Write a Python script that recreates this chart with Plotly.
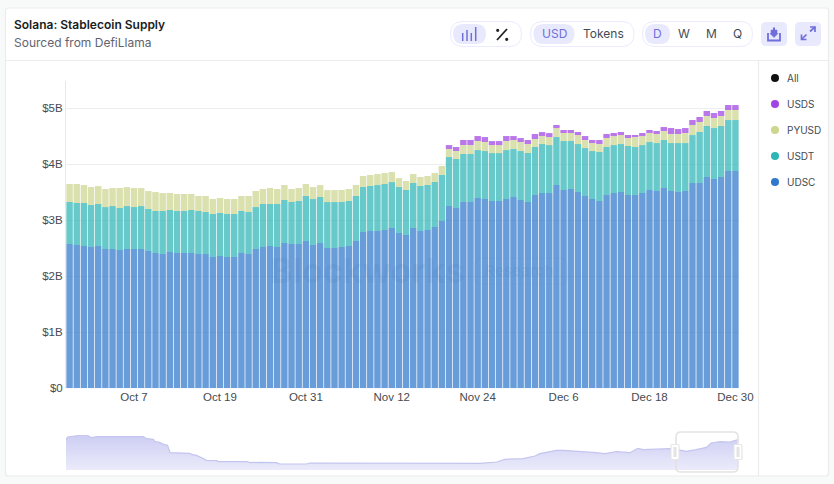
import pandas as pd
import plotly.graph_objects as go

W, H = 834, 484
START_DATE = "2024-09-28"
TICK_DATES = ["2024-10-07", "2024-10-19", "2024-10-31", "2024-11-12", "2024-11-24", "2024-12-06", "2024-12-18", "2024-12-30"]
TICK_LABELS = ["Oct 7", "Oct 19", "Oct 31", "Nov 12", "Nov 24", "Dec 6", "Dec 18", "Dec 30"]
Y_TICKS = [0, 1, 2, 3, 4, 5]
Y_LABELS = ["$0", "$1B", "$2B", "$3B", "$4B", "$5B"]

usdc = [2.577,2.559,2.541,2.523,2.541,2.487,2.487,2.470,2.487,2.487,2.487,2.452,2.416,2.398,2.434,2.416,2.416,2.416,2.398,2.398,2.345,2.363,2.345,2.345,2.416,2.398,2.487,2.523,2.541,2.523,
        2.595,2.577,2.577,2.630,2.559,2.595,2.505,2.505,2.523,2.541,2.630,2.791,2.809,2.809,2.827,2.862,2.773,2.737,2.862,2.809,2.827,2.880,2.988,3.255,3.220,3.327,3.327,3.398,3.380,3.344,3.344,3.380,
        3.416,3.362,3.327,3.452,3.487,3.487,3.630,3.541,3.559,3.505,3.434,3.380,3.345,3.452,3.487,3.505,3.452,3.452,3.487,3.541,3.523,3.577,3.523,3.505,3.523,3.666,3.666,3.773,3.737,3.773,3.880,3.880]
usdt = [.75,.75,.768,.75,.75,.75,.768,.75,.768,.75,.768,.75,.75,.768,.75,.75,.75,.768,.768,.75,.768,.768,.768,.768,.75,.75,.75,.768,.75,.768,
        .768,.75,.768,.804,.821,.821,.821,.821,.804,.804,.804,.804,.804,.821,.821,.821,.821,.804,.804,.804,.804,.804,.821,.875,.875,.857,.857,.857,.857,.857,.857,.875,
        .857,.875,.875,.857,.875,.857,.857,.875,.857,.857,.857,.857,.875,.857,.857,.857,.875,.857,.857,.857,.857,.857,.857,.875,.857,.857,.911,.911,.911,.911,.911,.911]
pyusd = [.321,.339,.321,.321,.321,.321,.321,.357,.339,.339,.321,.321,.339,.321,.304,.304,.304,.286,.268,.286,.268,.268,.268,.268,.268,.286,.286,.268,.286,.268,
         .268,.232,.232,.214,.214,.214,.214,.214,.214,.214,.196,.196,.196,.196,.196,.179,.161,.161,.161,.161,.161,.161,.161,.143,.143,.161,.161,.161,.161,.143,.143,.161,
         .161,.161,.161,.143,.143,.143,.161,.143,.143,.161,.143,.143,.143,.161,.161,.161,.143,.179,.161,.161,.161,.161,.161,.161,.179,.179,.179,.179,.179,.179,.179,.179]
usds = [0]*53 + [.071,.071,.089,.089,.089,.089,.071,.071,.089,
        .071,.071,.071,.089,.071,.071,.054,.054,.054,.054,.071,.054,.071,.071,.054,.054,.054,.036,.054,.054,.054,.071,.107,.089,.089,.089,.089,.089,.089,.089,.089,.089]

nav_pos = [0,.25,1.3,2.3,3.1,3.8,4.6,7,11.5,12,13,13.2,14,14.5,15.1,15.5,17.2,18.4,18.7,19.4,20.2,20.9,22.4,22.7,26.9,27.4,28.9,29.8,31.3,31.8,35.8,36.3,52.7,61.6,64.1,65.3,68,69.8,70.5,71.7,73,74,75,76.9,78.9,80.2,81.9,83.9,85.1,85.9,87.4,89.8,90.8,92.3,93.8,95.3,96,97.3,98.8,100]
nav_vals = [92,99,102,105,105,97,100,100,100,94,92,86,82,77,74,52,51,50,47,44,37,29,28,25,25,22,23,23,22,18,18,21,20,20,24,32,34,42,49,54,59,59,58,56,52,49,55,52,65,61,63,64,62,56,61,68,81,85,84,91]

C_USDC, C_USDT, C_PYUSD, C_USDS = "#2f78cc", "#2db5b5", "#cdd68f", "#a044e3"
ACC = "#6f6fdc"; ACC_BG = "#e9e9fd"; PILL = "#ecebfd"
TEXT = "#444b52"

dates = pd.date_range(START_DATE, periods=len(usdc), freq="D")
fig = go.Figure()
for name, vals, col in [("UDSC", usdc, C_USDC), ("USDT", usdt, C_USDT), ("PYUSD", pyusd, C_PYUSD), ("USDS", usds, C_USDS)]:
    fig.add_trace(go.Bar(x=dates, y=vals, name=name, marker=dict(color=col, line_width=0), opacity=0.72, showlegend=False, hoverinfo="skip"))
fig.add_trace(go.Scatter(x=nav_pos, y=nav_vals, xaxis="x2", yaxis="y2", mode="lines", line=dict(color="#c4c5ef", width=1.2),
                         fill="tozeroy", fillgradient=dict(type="vertical", colorscale=[[0, "#ebebfb"], [1, "#cdcdf3"]]),
                         showlegend=False, hoverinfo="skip"))

def X(p): return p / W
def Y(p): return 1 - p / H
shapes, ann = [], []

def rrect(x0, y0, x1, y1, r, fill=None, line=None, lw=1, layer="above"):
    a, b, c, d = X(x0), Y(y0), X(x1), Y(y1)
    rx, ry = r / W, r / H
    path = (f"M{a+rx},{b} L{c-rx},{b} Q{c},{b} {c},{b-ry} L{c},{d+ry} Q{c},{d} {c-rx},{d} "
            f"L{a+rx},{d} Q{a},{d} {a},{d+ry} L{a},{b-ry} Q{a},{b} {a+rx},{b} Z")
    shapes.append(dict(type="path", xref="paper", yref="paper", path=path, layer=layer,
                       fillcolor=fill or "rgba(0,0,0,0)",
                       line=dict(color=line or "rgba(0,0,0,0)", width=lw if line else 0)))

def seg(pts, col, lw=1.5, fill=None, close=False):
    p = "M" + " L".join(f"{X(a)},{Y(b)}" for a, b in pts) + (" Z" if close else "")
    shapes.append(dict(type="path", xref="paper", yref="paper", path=p, line=dict(color=col, width=lw),
                       fillcolor=fill or "rgba(0,0,0,0)"))

def circ(cx, cy, r, col):
    shapes.append(dict(type="circle", xref="paper", yref="paper", x0=X(cx-r), x1=X(cx+r), y0=Y(cy+r), y1=Y(cy-r),
                       fillcolor=col, line_width=0))

def txt(x, y, s, size=12, col=TEXT, anchor="center", weight=None, fam="Inter"):
    f = dict(family=fam, size=size, color=col)
    if weight: f["weight"] = weight
    ann.append(dict(xref="paper", yref="paper", x=X(x), y=Y(y), text=s, showarrow=False, xanchor=anchor, yanchor="middle", font=f, borderpad=0))

# card
rrect(5.5, 8, 828.5, 476, 3, fill="#ffffff", line="#ececee", lw=1.2, layer="below")
shapes.append(dict(type="line", xref="paper", yref="paper", x0=X(5.5), x1=X(828.5), y0=Y(60.5), y1=Y(60.5), line=dict(color="#ececee", width=1.2), layer="below"))
shapes.append(dict(type="line", xref="paper", yref="paper", x0=X(758.5), x1=X(758.5), y0=Y(60.5), y1=Y(476), line=dict(color="#ececee", width=1.2), layer="below"))

txt(13, 25, "Solana: Stablecoin Supply", 12, "#1a1d21", "left", 600)
txt(13, 43, "Sourced from DefiLlama", 12, "#5f6470", "left")

# pills
rrect(450.5, 21.5, 521.5, 46.5, 12.5, fill="#ffffff", line=PILL)
rrect(453, 24, 486, 44, 10, fill=ACC_BG)
rrect(530.5, 21.5, 634, 46.5, 12.5, fill="#ffffff", line=PILL)
rrect(533.5, 24, 574.5, 44, 10, fill=ACC_BG)
rrect(642.5, 21.5, 752.5, 46.5, 12.5, fill="#ffffff", line=PILL)
rrect(645, 24, 670, 44, 10, fill=ACC_BG)
rrect(761, 22, 787, 46, 5, fill=ACC_BG)
rrect(795, 22, 821, 46, 5, fill=ACC_BG)
for x, t in [(462.7, 33), (467, 30), (471.3, 33), (475.7, 27)]:
    seg([(x, t), (x, 41)], ACC, 1.5)
seg([(497, 40), (507, 29)], "#222222", 1.8)
circ(497.7, 30.3, 1.6, "#222222")
circ(506.7, 39.3, 1.6, "#222222")
txt(554, 34, "USD", 12, ACC)
txt(603.5, 34, "Tokens", 12, TEXT)
txt(657.7, 34, "D", 12, ACC)
txt(684, 34, "W", 12, TEXT)
txt(711.3, 34, "M", 12, TEXT)
txt(737.3, 34, "Q", 12, TEXT)
# download icon
seg([(768, 33), (768, 40.5), (780, 40.5), (780, 33)], ACC, 1.8)
seg([(771, 30), (777, 30), (777, 34), (771, 34)], ACC, 0.5, fill=ACC, close=True)
seg([(770, 33.5), (774, 37.5), (778, 33.5)], ACC, 0.5, fill=ACC, close=True)
seg([(774, 27.5), (774, 31)], ACC, 2)
# expand icon
seg([(801.5, 39.5), (806.5, 34.5)], ACC, 1.7)
seg([(810, 31.5), (815, 27)], ACC, 1.7)
seg([(810, 27), (815, 27), (815, 32)], ACC, 1.7)
seg([(801.5, 34.5), (801.5, 39.5), (806.5, 39.5)], ACC, 1.7)

# side key
for y, s, c in [(78, "All", "#111111"), (104, "USDS", C_USDS), (130, "PYUSD", C_PYUSD), (156, "USDT", C_USDT), (182, "UDSC", C_USDC)]:
    circ(775, y, 4, c)
    txt(786, y, s, 10, TEXT, "left")

# watermark
txt(367, 270, "Blockworks", 34, "rgba(60,105,170,0.10)", "center", 700)
txt(519, 270, "Research", 15, "rgba(60,105,170,0.10)", "center", 700)
rrect(475, 258, 567, 284, 7, line="rgba(60,105,170,0.06)", lw=1.2)

# navigator window
rrect(676, 432, 738, 472, 5, line="#e3e3e3", lw=1.6)
rrect(671, 444.5, 679, 459.5, 1, fill="#ffffff", line="#e6e6e6", lw=1.2)
rrect(734, 444.5, 742, 459.5, 1, fill="#ffffff", line="#e6e6e6", lw=1.2)
shapes.append(dict(type="rect", xref="paper", yref="paper", x0=X(673.5), x1=X(676.5), y0=Y(457), y1=Y(447), fillcolor="#e3e3e3", line_width=0))
shapes.append(dict(type="rect", xref="paper", yref="paper", x0=X(736.5), x1=X(739.5), y0=Y(457), y1=Y(447), fillcolor="#e3e3e3", line_width=0))

fig.update_layout(
    width=W, height=H, margin=dict(l=0, r=0, t=0, b=0, autoexpand=False), autosize=False,
    paper_bgcolor="#f8f9f9", plot_bgcolor="rgba(0,0,0,0)", barmode="stack", bargap=0.1,
    font=dict(family="Liberation Sans", size=11.5, color=TEXT),
    shapes=shapes, annotations=ann,
    xaxis=dict(domain=[X(66), X(739)], type="date", range=["2024-09-27 12:00", "2024-12-30 12:00"], automargin=False,
               tickvals=TICK_DATES, ticktext=TICK_LABELS, showgrid=False, showline=False, zeroline=False, ticks="", anchor="y", tickangle=0),
    yaxis=dict(domain=[Y(388.3), Y(81)], range=[0, 5.488], tickvals=Y_TICKS, ticktext=Y_LABELS, gridcolor="#eeeeee", gridwidth=1.3, automargin=False,
               showline=True, linecolor="#e8e8e8", linewidth=1, zeroline=False, ticks="", anchor="x"),
    xaxis2=dict(domain=[X(66), X(738)], range=[0, 100], visible=False, anchor="y2", automargin=False),
    yaxis2=dict(domain=[Y(470), Y(435)], range=[0, 105], visible=False, anchor="x2", automargin=False),
)
fig.write_html("out.html", config=dict(displayModeBar=False, staticPlot=True),
               post_script="document.body.style.margin='0';document.body.style.overflow='hidden';"
                           "document.querySelectorAll('.bars path').forEach(function(p){p.style.shapeRendering='geometricPrecision';});")
